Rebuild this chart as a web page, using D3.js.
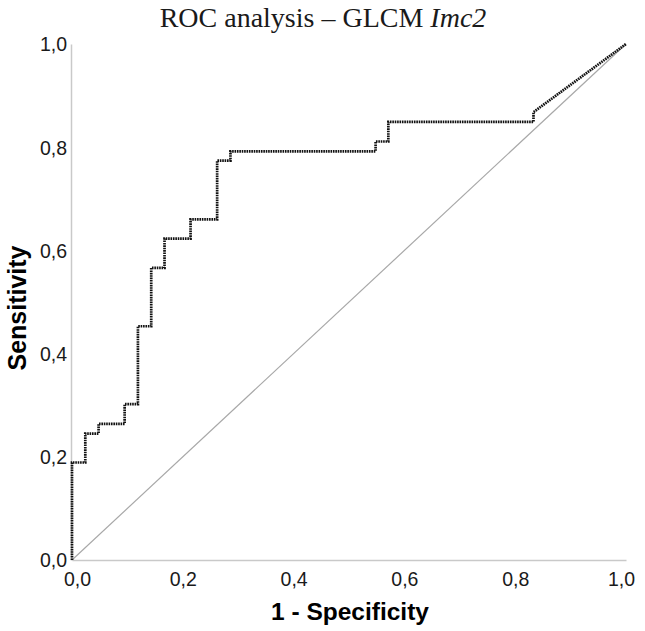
<!DOCTYPE html>
<html>
<head>
<meta charset="utf-8">
<script src="https://cdn.jsdelivr.net/npm/d3@7"></script>
<style>
  html, body { margin: 0; padding: 0; background: #fff; }
  svg { display: block; }
</style>
</head>
<body>
<svg id="chart" width="645" height="631"></svg>
<script>
// ROC curve points (1 - specificity, sensitivity)
const fpr = [0, 0, 0.024, 0.024, 0.048, 0.048, 0.095, 0.095, 0.119, 0.119, 0.143, 0.143,
             0.167, 0.167, 0.214, 0.214, 0.262, 0.262, 0.286, 0.286, 0.548, 0.548,
             0.571, 0.571, 0.833, 0.833, 1.0];
const tpr = [0, 0.189, 0.189, 0.245, 0.245, 0.264, 0.264, 0.302, 0.302, 0.453, 0.453, 0.566,
             0.566, 0.623, 0.623, 0.660, 0.660, 0.774, 0.774, 0.792, 0.792, 0.811,
             0.811, 0.849, 0.849, 0.868, 1.0];
const refLine = [0, 1];
const tickValues = [0, 0.2, 0.4, 0.6, 0.8, 1.0];
const tickLabels = ["0,0", "0,2", "0,4", "0,6", "0,8", "1,0"];
const titleMain = "ROC analysis \u2013 GLCM ";
const titleItalic = "Imc2";
const xTitle = "1 - Specificity";
const yTitle = "Sensitivity";

(function () {
const svg = d3.select("#chart");
const pLeft = 72, pRight = 626, pTop = 44, pBottom = 560;
const x = d3.scaleLinear().domain([0, 1]).range([pLeft, pRight]);
const y = d3.scaleLinear().domain([0, 1]).range([pBottom, pTop]);

const xAxis = d3.axisBottom(x).tickValues(tickValues).tickSize(0).tickFormat((d, i) => tickLabels[i]);
const yAxis = d3.axisLeft(y).tickValues(tickValues).tickSize(0).tickFormat((d, i) => tickLabels[i]);

const gx = svg.append("g").attr("transform", `translate(0,${pBottom})`).call(xAxis);
gx.select(".domain").attr("stroke", "#c9c9c9").attr("stroke-width", 1.5);
gx.selectAll("text")
  .attr("font-family", "Liberation Sans, Arial, sans-serif")
  .attr("font-size", 19.5).attr("fill", "#1a1a1a")
  .attr("dy", 0).attr("y", 26)
  .attr("dx", (d, i) => i === 0 ? 5 : (i === tickValues.length - 1 ? -5 : 0));

const gy = svg.append("g").attr("transform", `translate(${pLeft - 1},0)`).call(yAxis);
gy.select(".domain").attr("stroke", "#c9c9c9").attr("stroke-width", 1.5);
gy.selectAll("text")
  .attr("font-family", "Liberation Sans, Arial, sans-serif")
  .attr("font-size", 19.5).attr("fill", "#1a1a1a")
  .attr("x", -4).attr("dy", "0.35em");

svg.append("line")
  .attr("x1", x(refLine[0])).attr("y1", y(refLine[0]))
  .attr("x2", x(refLine[1])).attr("y2", y(refLine[1]))
  .attr("stroke", "#a8a8a8").attr("stroke-width", 1.2);

const pts = fpr.map((f, i) => [f, tpr[i]]);
const line = d3.line().x(d => x(d[0])).y(d => y(d[1]));
svg.append("path")
  .attr("d", line(pts))
  .attr("fill", "none")
  .attr("stroke", "#111")
  .attr("stroke-width", 2.7)
  .attr("stroke-dasharray", "1.6,0.8");

const t = svg.append("text")
  .attr("x", 323).attr("y", 27)
  .attr("text-anchor", "middle")
  .attr("font-family", "Liberation Serif, Times New Roman, serif")
  .attr("font-size", 28).attr("fill", "#1a1a1a");
t.append("tspan").text(titleMain);
t.append("tspan").attr("font-style", "italic").text(titleItalic);

svg.append("text")
  .attr("x", 350).attr("y", 620)
  .attr("text-anchor", "middle")
  .attr("font-family", "Liberation Sans, Arial, sans-serif")
  .attr("font-weight", "bold")
  .attr("font-size", 24.5).attr("fill", "#000")
  .text(xTitle);

svg.append("text")
  .attr("transform", `translate(26,308) rotate(-90)`)
  .attr("text-anchor", "middle")
  .attr("font-family", "Liberation Sans, Arial, sans-serif")
  .attr("font-weight", "bold")
  .attr("font-size", 25).attr("fill", "#000")
  .text(yTitle);
})();
</script>
</body>
</html>
